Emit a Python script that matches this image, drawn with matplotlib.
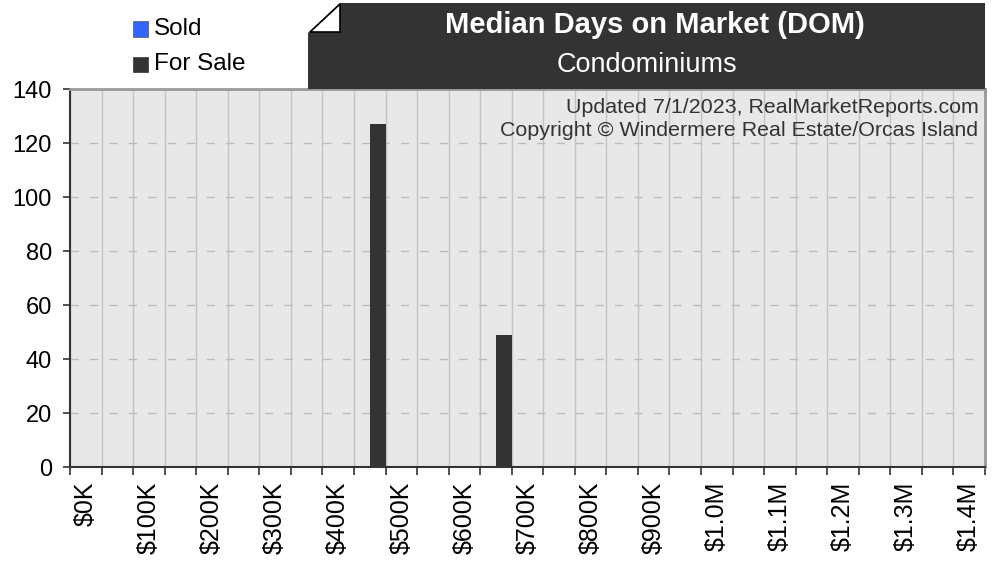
import matplotlib
matplotlib.use("Agg")
import matplotlib.pyplot as plt
from matplotlib.patches import Polygon, Rectangle
from matplotlib.ticker import FixedLocator, NullFormatter, FixedFormatter

plt.rcParams['font.family'] = ['Liberation Sans', 'DejaVu Sans']

# ---- data ----
bin_starts_k = [0, 50, 100, 150, 200, 250, 300, 350, 400, 450, 500, 550, 600, 650,
                700, 750, 800, 850, 900, 950, 1000, 1050, 1100, 1150, 1200, 1250,
                1300, 1350, 1400]
tick_labels = ["$0K", "$100K", "$200K", "$300K", "$400K", "$500K", "$600K", "$700K",
               "$800K", "$900K", "$1.0M", "$1.1M", "$1.2M", "$1.3M", "$1.4M"]
sold = [0, 0, 0, 0, 0, 0, 0, 0, 0, 0, 0, 0, 0, 0, 0, 0, 0, 0, 0, 0, 0, 0, 0, 0, 0, 0, 0, 0, 0]
for_sale = [0, 0, 0, 0, 0, 0, 0, 0, 0, 127, 0, 0, 0, 49, 0, 0, 0, 0, 0, 0, 0, 0, 0, 0, 0, 0, 0, 0, 0]
title = "Median Days on Market (DOM)"
subtitle = "Condominiums"
notes = ["Updated 7/1/2023, RealMarketReports.com",
         "Copyright \u00a9 Windermere Real Estate/Orcas Island"]

W, H = 995, 562
fig = plt.figure(figsize=(W / 100, H / 100), dpi=100)

def fx(px):
    return px / W

def fy(py):
    return 1 - py / H

ax = fig.add_axes([fx(70), fy(467), fx(985) - fx(70), fy(89) - fy(467)])
ax.set_facecolor("#e8e8e8")

n = len(bin_starts_k)
idx = list(range(n))
ax.bar([i + 0.25 for i in idx], sold, width=0.5, color="#3366ff", zorder=3)
ax.bar([i + 0.75 for i in idx], for_sale, width=0.5, color="#333333", zorder=3)

ax.set_xlim(0, n)
ax.set_ylim(0, 140)

ax.xaxis.set_major_locator(FixedLocator(list(range(n + 1))))
ax.xaxis.set_major_formatter(NullFormatter())
label_pos = [i + 0.5 for i in idx if i % 2 == 0]
ax.xaxis.set_minor_locator(FixedLocator(label_pos))
ax.xaxis.set_minor_formatter(FixedFormatter(tick_labels))
ax.tick_params(axis="x", which="major", length=6, width=1.2, color="#333333", direction="out")
ax.tick_params(axis="x", which="minor", length=0, pad=10.5, labelsize=18, labelrotation=90,
               labelcolor="black")
ax.set_yticks(range(0, 141, 20))
ax.tick_params(axis="y", length=5, width=1.2, color="#333333", labelsize=17, pad=8)

ax.grid(axis="x", which="major", color="#c4c4c4", linewidth=1, linestyle="-", zorder=1)
ax.grid(axis="y", color="#bcbcbc", linewidth=1, linestyle=(0, (6, 8)), zorder=1)
ax.set_axisbelow(True)

for s in ["left", "bottom"]:
    ax.spines[s].set_color("#333333")
    ax.spines[s].set_linewidth(1.5)
for s in ["top", "right"]:
    ax.spines[s].set_color("#999999")
    ax.spines[s].set_linewidth(2)

ax.text(0.993, 0.976, notes[0] + "\n" + notes[1], transform=ax.transAxes, ha="right",
        va="top", fontsize=15.4, color="#333333", linespacing=1.27, zorder=5)

# title box with folded corner
dark = Polygon([(fx(308), fy(33)), (fx(340), fy(3)), (fx(985), fy(3)), (fx(985), fy(89)),
                (fx(308), fy(89))], closed=True, transform=fig.transFigure,
               facecolor="#333333", edgecolor="none", zorder=2)
fig.add_artist(dark)
fold = Polygon([(fx(310), fy(32)), (fx(340), fy(4)), (fx(340), fy(32))], closed=True,
               transform=fig.transFigure, facecolor="white", edgecolor="black",
               linewidth=1.2, zorder=3)
fig.add_artist(fold)
fig.text(fx(655), fy(25), title, ha="center", va="center", fontsize=21,
         fontweight="bold", color="white", zorder=4)
fig.text(fx(647), fy(65), subtitle, ha="center", va="center", fontsize=19.5,
         color="white", zorder=4)

# legend
fig.add_artist(Rectangle((fx(133), fy(37)), fx(15), fy(21) - fy(37), transform=fig.transFigure,
                         facecolor="#3366ff", edgecolor="#555555", linewidth=0.5))
fig.add_artist(Rectangle((fx(133), fy(72)), fx(15), fy(57) - fy(72), transform=fig.transFigure,
                         facecolor="#333333", edgecolor="#333333", linewidth=0.5))
fig.text(fx(154), fy(29), "Sold", ha="left", va="center", fontsize=17.5, color="black")
fig.text(fx(154), fy(64), "For Sale", ha="left", va="center", fontsize=17.5, color="black")

fig.savefig("out.png", dpi=100)
